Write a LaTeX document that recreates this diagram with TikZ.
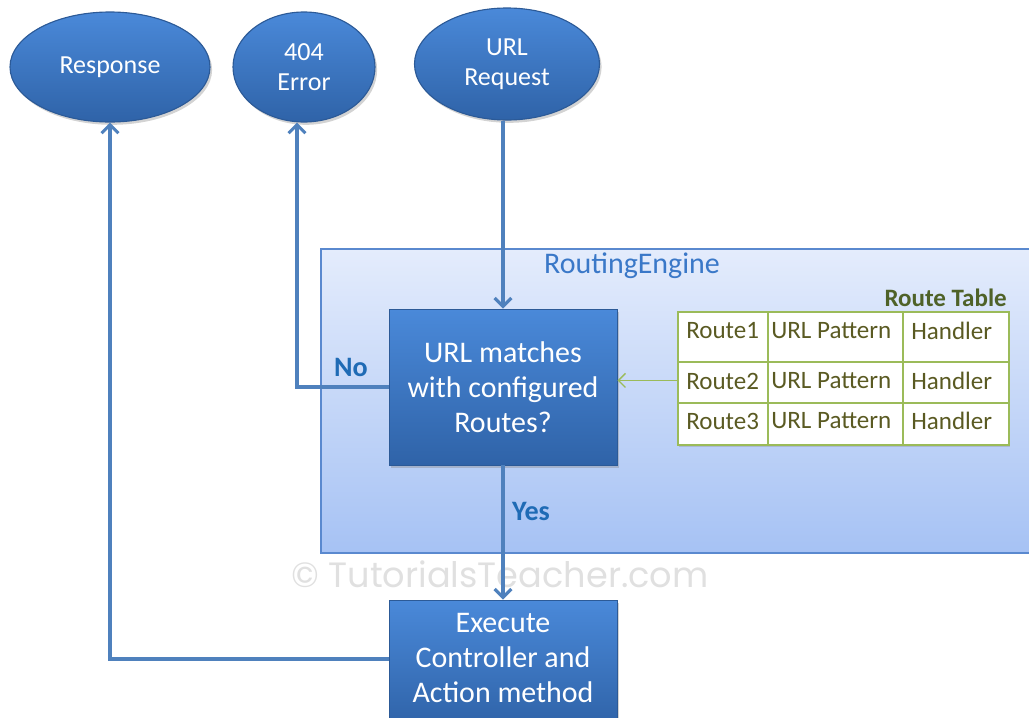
\documentclass[tikz,border=0pt]{standalone}
\usepackage{fontspec}
\setmainfont{Carlito}
\newfontfamily\wmfont{Poppins}
\usetikzlibrary{shapes.geometric,arrows.meta,shadows,calc}
\definecolor{flowline}{HTML}{4F81BD}
\definecolor{nodetop}{HTML}{4A89D9}
\definecolor{nodebot}{HTML}{2F63A8}
\definecolor{nodeedge}{HTML}{2C5A97}
\definecolor{enginetop}{HTML}{E4ECFC}
\definecolor{enginebot}{HTML}{A6C2F4}
\definecolor{engineedge}{HTML}{5A89CF}
\definecolor{enginetext}{HTML}{3A78C8}
\definecolor{labeltext}{HTML}{1F6BB5}
\definecolor{tablegreen}{HTML}{9BBB59}
\definecolor{tabletext}{HTML}{5A5A22}
\definecolor{tabletitle}{HTML}{4F6228}
\def\pxu{0.025cm}
\tikzset{
  flow/.style={draw=flowline, line width=2.6pt, -{Straight Barb[length=6pt,width=12pt,line width=2.2pt]}},
  oval/.style={ellipse, inner sep=0pt, top color=nodetop, bottom color=nodebot, draw=nodeedge, line width=0.8pt,
    drop shadow={shadow xshift=1.5pt, shadow yshift=-2pt, opacity=0.35},
    text=white, align=center, font=\fontsize{18.5pt}{21.3pt}\selectfont},
  stepbox/.style={rectangle, inner sep=0pt, top color=nodetop, bottom color=nodebot, draw=nodeedge, line width=0.6pt,
    drop shadow={shadow xshift=1.5pt, shadow yshift=-2pt, opacity=0.35},
    minimum width=228*\pxu},
  boxtext/.style={text=white, align=center, font=\fontsize{21.3pt}{24.9pt}\selectfont, inner sep=0pt},
  cell/.style={text=tabletext, font=\fontsize{17.8pt}{20pt}\selectfont, inner sep=0pt},
  answer/.style={text=labeltext, font=\bfseries\fontsize{20pt}{22pt}\selectfont, inner sep=0pt},
}
\begin{document}
\begin{tikzpicture}[x=0.025cm, y=-0.025cm]
\useasboundingbox (0,0) rectangle (1029,717);
\clip (0,0) rectangle (1029,717);

% routing engine area
\node[rectangle, inner sep=0pt, top color=enginetop, bottom color=enginebot, draw=engineedge, line width=1.2pt,
      minimum width=740*\pxu, minimum height=304*\pxu, anchor=north west] (engine) at (320,248) {};
\node[text=enginetext, font=\fontsize{21.3pt}{24pt}\selectfont, inner sep=0pt] (enginelbl) at (632,266) {RoutingEngine};

% top ovals
\node[oval, minimum width=200*\pxu, minimum height=110*\pxu] (resp) at (110,67) {\raisebox{-2pt}{Response}};
\node[oval, minimum width=142*\pxu, minimum height=110*\pxu] (err) at (304,67) {404\\Error};
\node[oval, minimum width=185*\pxu, minimum height=112*\pxu] (req) at (507,64) {URL\\Request};

% process boxes
\node[stepbox, minimum height=156*\pxu] (dec) at (503,387) {};
\node[boxtext] (dectext) at (dec) {URL matches\\with configured\\Routes?};
\node[stepbox, minimum height=126*\pxu] (exec) at (503,663) {};
\node[boxtext] (exectext) at (503,658) {Execute\\Controller and\\Action method};

% route table
\node[rectangle, inner sep=0pt, fill=white, draw=tablegreen, line width=1.3pt,
      drop shadow={shadow xshift=1pt, shadow yshift=-1.5pt, opacity=0.3},
      minimum width=331*\pxu, minimum height=133*\pxu, anchor=north west] (tbl) at (677,311) {};
\draw[tablegreen, line width=1pt] (768,311) -- (768,444) (903,311) -- (903,444)
  (677,362) -- (1008,362) (677,403) -- (1008,403);
\node[text=tabletitle, font=\bfseries\fontsize{17.8pt}{20pt}\selectfont, inner sep=0pt, anchor=east] (tbltitle) at (1007,298) {Route Table};
\foreach \r/\y in {1/331,2/381,3/421}{
  \node[cell, anchor=west] (route\r) at (686,\y) {Route\r};
  \node[cell, anchor=west] (pat\r) at (771,\y) {URL Pattern};
  \node[cell, anchor=west] (hnd\r) at (911,\y) {Handler};
}

% watermark
\node[text=black!12, font=\wmfont\fontsize{25pt}{28pt}\selectfont, inner sep=0pt] (wm) at (500,574) {© TutorialsTeacher.com};

% connectors
\draw[flow] (req.south -| dec.north) -- (dec.north);
\draw[flow] (dec.west) -| ($(err.south)+(-7,0)$);
\draw[flow] (dec.south) -- (exec.north);
\draw[flow] ($(exec.west)+(0,-4)$) -| (resp.south);
\draw[draw=tablegreen, line width=1.2pt, -{Straight Barb[length=5pt,width=10pt,line width=1pt]}]
  ($(tbl.west)+(0,2)$) -- ($(dec.east |- tbl.west)+(0,2)$);

% answer labels
\node[answer] (nolbl) at (351,367) {No};
\node[answer] (yeslbl) at (531,511) {Yes};
\end{tikzpicture}
\end{document}
